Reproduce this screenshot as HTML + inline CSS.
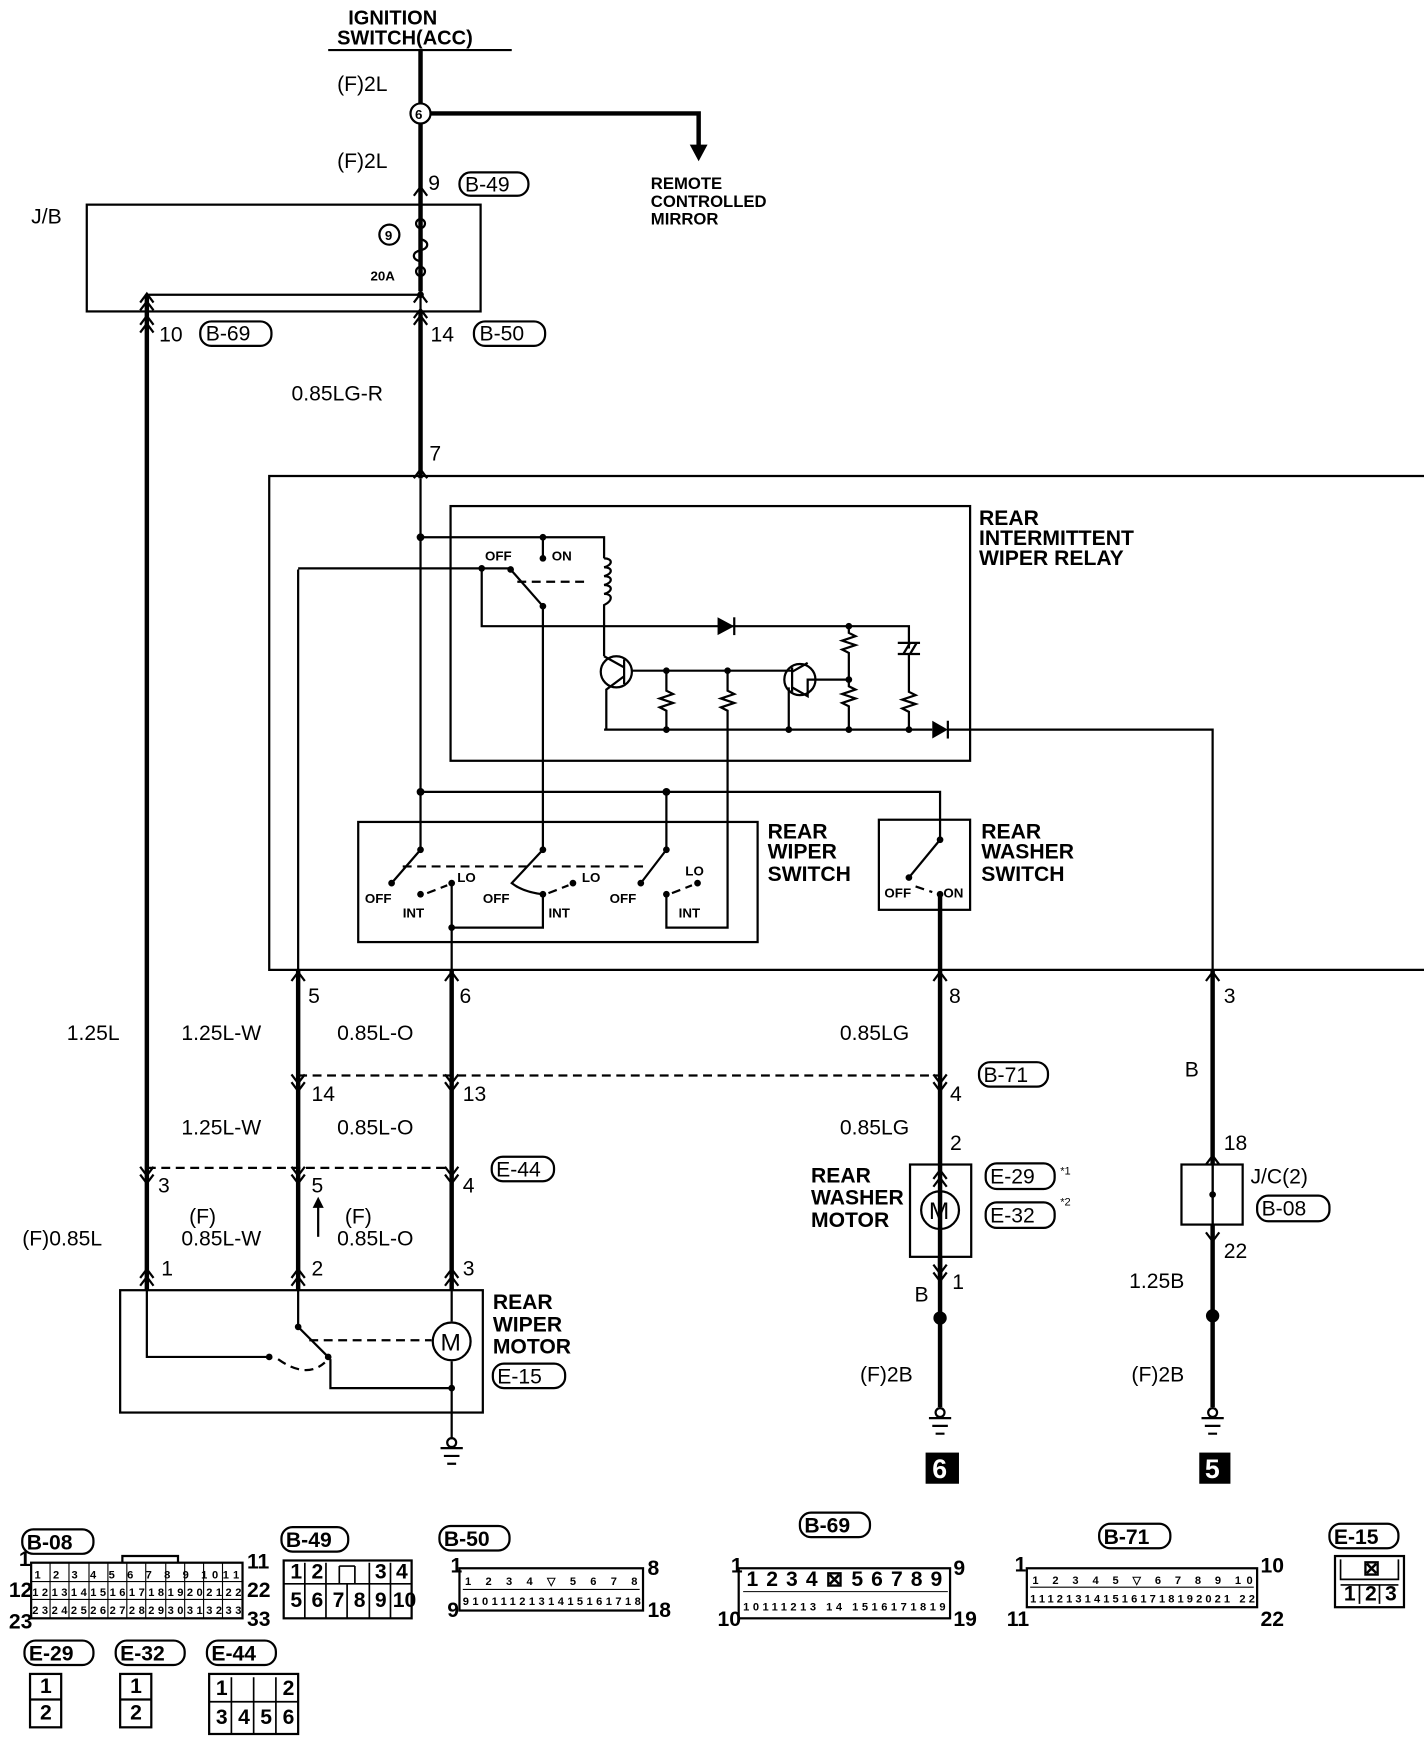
<!DOCTYPE html>
<html><head><meta charset="utf-8"><style>
html,body{margin:0;padding:0;background:#fff}
svg{display:block}
text{font-family:"Liberation Sans",sans-serif;font-size:19px;fill:#000}
.b{font-weight:bold}
.s{font-size:12px;font-weight:bold}
.n{font-size:10px}
.w{stroke:#000;fill:none;stroke-width:2}
.t{stroke:#000;fill:none;stroke-width:4}
.d{stroke:#000;fill:none;stroke-width:2;stroke-dasharray:8 5}
</style></head><body>
<svg width="1424" height="1744" viewBox="0 0 1280 1568" preserveAspectRatio="none" xmlns="http://www.w3.org/2000/svg">
<!-- top -->
<text x="313" y="22" class="b" style="font-size:18px">IGNITION</text>
<text x="303" y="40" class="b" style="font-size:18px">SWITCH(ACC)</text>
<line x1="295" y1="45" x2="460" y2="45" class="w"/>
<line x1="378" y1="45" x2="378" y2="262" class="t"/>
<circle cx="378" cy="102" r="9" fill="#fff" stroke="#000" stroke-width="2"/>
<text x="373" y="107" class="s">6</text>
<path d="M387 102H628V132" class="t"/><path d="M620 130L628 145L636 130Z"/>
<text x="585" y="170" class="b" style="font-size:15px">REMOTE</text>
<text x="585" y="186" class="b" style="font-size:15px">CONTROLLED</text>
<text x="585" y="202" class="b" style="font-size:15px">MIRROR</text>
<text x="303" y="82">(F)2L</text><text x="303" y="151">(F)2L</text>
<text x="385" y="171">9</text>
<rect x="413" y="155" width="62" height="21" rx="10" class="w"/><text x="418" y="172">B-49</text>
<path d="M372 176L378 168L384 176" class="w"/>
<!-- J/B -->
<rect x="78" y="184" width="354" height="96" class="w"/>
<text x="28" y="201">J/B</text>
<circle cx="350" cy="211" r="9" class="w"/><text x="346" y="216" class="s">9</text>
<circle cx="378" cy="201" r="4" class="w"/><circle cx="378" cy="244" r="4" class="w"/>
<path d="M378 205v10c8 2 8 8 0 10c-8 2 -8 8 0 10v5" class="w"/>
<text x="333" y="252" class="s">20A</text>
<path d="M378 248V280M132 265H378" class="w"/>
<circle cx="378" cy="265" r="3"/>
<path d="M126 272L132 264L138 272M126 279L132 271L138 279M372 272L378 264L384 272M372 286L378 278L384 286" class="w"/>
<line x1="132" y1="265" x2="132" y2="1160" class="t"/>
<line x1="378" y1="280" x2="378" y2="430" class="t"/>
<path d="M126 292L132 284L138 292M126 299L132 291L138 299M372 292L378 284L384 292" class="w"/>
<text x="143" y="307">10</text><rect x="180" y="289" width="64" height="22" rx="10" class="w"/><text x="185" y="306">B-69</text>
<text x="387" y="307">14</text><rect x="426" y="289" width="64" height="22" rx="10" class="w"/><text x="431" y="306">B-50</text>
<text x="262" y="360">0.85LG-R</text>
<text x="386" y="414">7</text>
<path d="M372 430L378 422L384 430" class="w"/>
<!-- outer frame -->
<path d="M1280 428H242V872H1280" class="w"/>
<!-- relay -->
<rect x="405" y="455" width="467" height="229" class="w"/>
<text x="880" y="472" class="b">REAR</text>
<text x="880" y="490" class="b">INTERMITTENT</text>
<text x="880" y="508" class="b">WIPER RELAY</text>
<line x1="378" y1="430" x2="378" y2="764" class="w"/>
<path d="M378 483H543V502M488 483V502" class="w"/>
<circle cx="378" cy="483" r="3.5"/><circle cx="488" cy="483" r="3"/><circle cx="488" cy="502" r="3"/>
<text x="436" y="504" class="s">OFF</text><text x="496" y="504" class="s">ON</text>
<path d="M543 502c8 0 8 6 0 8c8 0 8 6 0 8c8 0 8 6 0 8c8 0 8 6 0 8c8 0 8 6 0 10V590" class="w"/>
<path d="M268 512V1160M268 511H459" class="w"/>
<circle cx="433" cy="511" r="3"/><circle cx="459" cy="512" r="3"/>
<path d="M459 512L488 545" class="w"/><circle cx="488" cy="545" r="3"/>
<path d="M465 523H530" class="d"/>
<path d="M433 511V563H817V583" class="w"/>
<path d="M645 555L660 563L645 571Z"/><line x1="660" y1="555" x2="660" y2="571" class="w"/>
<circle cx="763" cy="563" r="3"/>
<path d="M763 563v6l6 3l-12 4l12 4l-12 4l6 3V611v6l6 3l-12 4l12 4l-12 4l6 3V656" class="w"/>
<circle cx="763" cy="611" r="3"/>
<path d="M807 578H827M807 588H827M812 588L818 578M818 588L824 578" class="w"/>
<path d="M817 588v34l6 3l-12 4l12 4l-12 4l6 3V656" class="w"/>
<line x1="488" y1="545" x2="488" y2="764" class="w"/>
<circle cx="554" cy="604" r="14" class="w"/><circle cx="719" cy="611" r="14" class="w"/>
<path d="M561 593V615M543 590L561 600M561 608L545 620V656M568 603H712" class="w"/>
<path d="M712 600V622M712 604L726 596M712 618L726 626V611H763M709 618V656" class="w"/>
<circle cx="599" cy="603" r="3"/><circle cx="654" cy="603" r="3"/>
<path d="M599 603v18l6 3l-12 4l12 4l-12 4l6 3V656" class="w"/>
<path d="M654 603v18l6 3l-12 4l12 4l-12 4l6 3V834H599V804" class="w"/>
<path d="M543 656H838" class="w"/>
<circle cx="599" cy="656" r="3"/><circle cx="709" cy="656" r="3"/><circle cx="763" cy="656" r="3"/><circle cx="817" cy="656" r="3"/>
<path d="M838 648L852 656L838 664Z"/><line x1="852" y1="648" x2="852" y2="664" class="w"/>
<path d="M852 656H1090V1160" class="w"/>
<!-- switch supply -->
<path d="M378 712H845V755" class="w"/>
<circle cx="378" cy="712" r="3.5"/><circle cx="599" cy="712" r="3.5"/>
<line x1="599" y1="712" x2="599" y2="764" class="w"/>
<!-- wiper switch -->
<rect x="322" y="739" width="359" height="108" class="w"/>
<text x="690" y="754" class="b">REAR</text><text x="690" y="772" class="b">WIPER</text><text x="690" y="792" class="b">SWITCH</text>
<path d="M378 764L352 794M488 764L460 794Q470 802 488 804V834H406M599 764L576 794" class="w"/>
<circle cx="378" cy="764" r="3"/><circle cx="488" cy="764" r="3"/><circle cx="599" cy="764" r="3"/>
<circle cx="352" cy="794" r="3"/><circle cx="378" cy="804" r="3"/><circle cx="406" cy="794" r="3"/>
<circle cx="488" cy="804" r="3"/><circle cx="515" cy="794" r="3"/><circle cx="576" cy="794" r="3"/><circle cx="599" cy="804" r="3"/><circle cx="627" cy="794" r="3"/>
<circle cx="406" cy="834" r="3"/>
<path d="M362 779H583" class="d"/>
<path d="M384 803L402 796M493 803L511 796M604 803L622 796" class="d"/>
<path d="M406 794V1160" class="w"/>
<text x="328" y="812" class="s">OFF</text><text x="362" y="825" class="s">INT</text><text x="411" y="793" class="s">LO</text>
<text x="434" y="812" class="s">OFF</text><text x="493" y="825" class="s">INT</text><text x="523" y="793" class="s">LO</text>
<text x="548" y="812" class="s">OFF</text><text x="610" y="825" class="s">INT</text><text x="616" y="787" class="s">LO</text>
<!-- washer switch -->
<rect x="790" y="737" width="82" height="81" class="w"/>
<text x="882" y="754" class="b">REAR</text><text x="882" y="772" class="b">WASHER</text><text x="882" y="792" class="b">SWITCH</text>
<path d="M845 755L817 789" class="w"/><circle cx="845" cy="755" r="3"/><circle cx="817" cy="789" r="3"/><circle cx="845" cy="804" r="3"/>
<path d="M823 797L838 802" class="d"/>
<text x="795" y="807" class="s">OFF</text><text x="848" y="807" class="s">ON</text>
<line x1="845" y1="804" x2="845" y2="1150" class="t"/>
<!-- lower wires -->
<line x1="268" y1="872" x2="268" y2="1160" class="t"/>
<line x1="406" y1="872" x2="406" y2="1160" class="t"/>
<line x1="1090" y1="872" x2="1090" y2="1047" class="t"/>
<path d="M262 882L268 874L274 882M400 882L406 874L412 882M839 882L845 874L851 882M1084 882L1090 874L1096 882" class="w"/>
<text x="277" y="902">5</text><text x="413" y="902">6</text><text x="853" y="902">8</text><text x="1100" y="902">3</text>
<text x="60" y="935">1.25L</text><text x="163" y="935">1.25L-W</text><text x="303" y="935">0.85L-O</text><text x="755" y="935">0.85LG</text>
<text x="1065" y="968">B</text>
<path d="M268 967H845" class="d"/>
<path d="M262 966L268 974L274 966M262 973L268 981L274 973M400 966L406 974L412 966M400 973L406 981L412 973M839 966L845 974L851 966M839 973L845 981L851 973" class="w"/>
<text x="280" y="990">14</text><text x="416" y="990">13</text><text x="854" y="990">4</text>
<rect x="880" y="955" width="62" height="22" rx="10" class="w"/><text x="884" y="973">B-71</text>
<text x="163" y="1020">1.25L-W</text><text x="303" y="1020">0.85L-O</text><text x="755" y="1020">0.85LG</text>
<text x="854" y="1034">2</text><text x="1100" y="1034">18</text>
<path d="M132 1050H406" class="d"/>
<path d="M126 1049L132 1057L138 1049M126 1056L132 1064L138 1056M262 1049L268 1057L274 1049M262 1056L268 1064L274 1056M400 1049L406 1057L412 1049M400 1056L406 1064L412 1056" class="w"/>
<text x="142" y="1072">3</text><text x="280" y="1072">5</text><text x="416" y="1072">4</text>
<rect x="442" y="1040" width="56" height="22" rx="10" class="w"/><text x="446" y="1058">E-44</text>
<text x="170" y="1100">(F)</text><text x="310" y="1100">(F)</text>
<text x="20" y="1120">(F)0.85L</text><text x="163" y="1120">0.85L-W</text><text x="303" y="1120">0.85L-O</text>
<path d="M286 1112V1080" class="w"/><path d="M281 1086L286 1076L291 1086Z"/>
<text x="145" y="1147">1</text><text x="280" y="1147">2</text><text x="416" y="1147">3</text>
<path d="M126 1149L132 1141L138 1149M126 1156L132 1148L138 1156M262 1149L268 1141L274 1149M262 1156L268 1148L274 1156M400 1149L406 1141L412 1149M400 1156L406 1148L412 1156" class="w"/>
<!-- wiper motor -->
<rect x="108" y="1160" width="326" height="110" class="w"/>
<text x="443" y="1177" class="b">REAR</text><text x="443" y="1197" class="b">WIPER</text><text x="443" y="1217" class="b">MOTOR</text>
<rect x="443" y="1226" width="65" height="22" rx="10" class="w"/><text x="447" y="1244">E-15</text>
<path d="M132 1160V1220H242M268 1160V1193L295 1220M297 1222V1248H406V1224M406 1160V1188" class="w"/>
<circle cx="242" cy="1220" r="3"/><circle cx="268" cy="1193" r="3"/><circle cx="295" cy="1220" r="3"/>
<path d="M250 1222Q275 1240 292 1225M278 1205H388" class="d"/>
<circle cx="406" cy="1206" r="17" class="w"/><text x="396" y="1214" style="font-size:22px">M</text>
<path d="M406 1248V1294" class="w"/><circle cx="406" cy="1248" r="3"/>
<circle cx="406" cy="1297" r="4" class="w"/><path d="M396 1302H416M399 1309H413M402 1316H410" class="w"/>
<!-- washer motor -->
<text x="729" y="1063" class="b">REAR</text><text x="729" y="1083" class="b">WASHER</text><text x="729" y="1103" class="b">MOTOR</text>
<rect x="818" y="1047" width="55" height="83" class="w"/>
<circle cx="845" cy="1088" r="17" class="w"/><text x="835" y="1096" style="font-size:22px">M</text>
<path d="M839 1060L845 1052L851 1060M839 1067L845 1059L851 1067" class="w"/>
<rect x="886" y="1046" width="62" height="23" rx="10" class="w"/><text x="890" y="1064">E-29</text><text x="953" y="1056" class="n">*1</text>
<rect x="886" y="1081" width="62" height="23" rx="10" class="w"/><text x="890" y="1099">E-32</text><text x="953" y="1084" class="n">*2</text>
<line x1="845" y1="1130" x2="845" y2="1265" class="t"/>
<path d="M839 1137L845 1145L851 1137M839 1144L845 1152L851 1144" class="w"/>
<text x="856" y="1159">1</text><text x="822" y="1170">B</text>
<circle cx="845" cy="1185" r="6"/>
<text x="773" y="1242">(F)2B</text>
<circle cx="845" cy="1270" r="4" class="w"/><path d="M835 1275H855M838 1282H852M841 1289H849" class="w"/>
<rect x="832" y="1306" width="30" height="28" fill="#000"/><text x="838" y="1329" style="font-size:24px;fill:#fff" class="b">6</text>
<!-- J/C -->
<rect x="1062" y="1047" width="55" height="54" class="w"/>
<path d="M1090 1047V1101" class="w"/><circle cx="1090" cy="1074" r="3"/>
<path d="M1084 1047L1090 1039L1096 1047" class="w"/>
<text x="1124" y="1064">J/C(2)</text>
<rect x="1130" y="1075" width="65" height="23" rx="10" class="w"/><text x="1134" y="1093">B-08</text>
<line x1="1090" y1="1101" x2="1090" y2="1265" class="t"/>
<path d="M1084 1108L1090 1116L1096 1108" class="w"/>
<text x="1100" y="1131">22</text><text x="1015" y="1158">1.25B</text>
<circle cx="1090" cy="1183" r="6"/>
<text x="1017" y="1242">(F)2B</text>
<circle cx="1090" cy="1270" r="4" class="w"/><path d="M1080 1275H1100M1083 1282H1097M1086 1289H1094" class="w"/>
<rect x="1078" y="1306" width="28" height="28" fill="#000"/><text x="1083" y="1329" style="font-size:24px;fill:#fff" class="b">5</text>
<!-- connectors -->
<g class="s">
<rect x="20" y="1375" width="64" height="22" rx="10" class="w"/><text x="24" y="1393" style="font-size:19px">B-08</text>
<rect x="28" y="1405" width="190" height="50" class="w"/>
<path d="M28 1422H218M28 1438H218M45 1405V1455M62 1405V1455M80 1405V1455M97 1405V1455M114 1405V1455M131 1405V1455M149 1405V1455M166 1405V1455M183 1405V1455M200 1405V1455" stroke="#000" stroke-width="1" fill="none"/>
<path d="M110 1405V1399H160V1405" class="w"/>
<text x="31" y="1419" textLength="184" class="n">1 2 3 4 5 6 7 8 9 1011</text>
<text x="29" y="1435" textLength="188" class="n">1213141516171819202122</text>
<text x="29" y="1451" textLength="188" class="n">2324252627282930313233</text>
<text x="17" y="1408">1</text><text x="222" y="1410">11</text><text x="8" y="1436">12</text><text x="222" y="1436">22</text><text x="8" y="1464">23</text><text x="222" y="1462">33</text>
<rect x="253" y="1373" width="60" height="22" rx="10" class="w"/><text x="257" y="1391" style="font-size:19px">B-49</text>
<rect x="255" y="1403" width="115" height="52" class="w"/>
<path d="M255 1424H370M274 1405V1455M293 1405V1455M312 1424V1455M332 1405V1455M351 1405V1455M305 1408V1424M319 1408V1424M305 1408H319" stroke="#000" stroke-width="1.5" fill="none"/>
<text x="261" y="1419">1</text><text x="280" y="1419">2</text><text x="337" y="1419">3</text><text x="356" y="1419">4</text>
<text x="261" y="1445">5</text><text x="280" y="1445">6</text><text x="299" y="1445">7</text><text x="318" y="1445">8</text><text x="337" y="1445">9</text><text x="353" y="1445">10</text>
<rect x="395" y="1372" width="63" height="22" rx="10" class="w"/><text x="399" y="1390" style="font-size:19px">B-50</text>
<rect x="413" y="1410" width="165" height="38" class="w"/>
<path d="M416 1429H575" stroke="#000" stroke-width="1"/>
<text x="418" y="1425" textLength="155" class="n">1 2 3 4 ▽ 5 6 7 8</text>
<text x="416" y="1443" textLength="160" class="n">9101112131415161718</text>
<text x="405" y="1414">1</text><text x="582" y="1416">8</text><text x="402" y="1454">9</text><text x="582" y="1454">18</text>
<rect x="719" y="1360" width="63" height="22" rx="10" class="w"/><text x="723" y="1378" style="font-size:19px">B-69</text>
<rect x="664" y="1410" width="190" height="45" class="w"/>
<path d="M668 1431H852" stroke="#000" stroke-width="1"/>
<text x="671" y="1426" textLength="176">1 2 3 4 ⊠ 5 6 7 8 9</text>
<text x="668" y="1448" textLength="182" class="n">10111213 14 1516171819</text>
<text x="657" y="1414">1</text><text x="857" y="1416">9</text><text x="645" y="1462">10</text><text x="857" y="1462">19</text>
<rect x="988" y="1370" width="64" height="22" rx="10" class="w"/><text x="992" y="1388" style="font-size:19px">B-71</text>
<rect x="923" y="1410" width="207" height="35" class="w"/>
<path d="M926 1427H1127" stroke="#000" stroke-width="1"/>
<text x="928" y="1424" textLength="198" class="n">1 2 3 4 5 ▽ 6 7 8 9 10</text>
<text x="926" y="1441" textLength="202" class="n">1112131415161718192021 22</text>
<text x="912" y="1413">1</text><text x="1133" y="1414">10</text><text x="905" y="1462">11</text><text x="1133" y="1462">22</text>
<rect x="1195" y="1370" width="62" height="22" rx="10" class="w"/><text x="1199" y="1388" style="font-size:19px">E-15</text>
<rect x="1200" y="1399" width="62" height="46" class="w"/>
<path d="M1205 1402V1420H1257V1402M1205 1425H1257M1222 1425V1442M1240 1425V1442" stroke="#000" stroke-width="1.5" fill="none"/>
<text x="1225" y="1416">⊠</text><text x="1208" y="1439">1</text><text x="1227" y="1439">2</text><text x="1245" y="1439">3</text>
<rect x="22" y="1475" width="62" height="22" rx="10" class="w"/><text x="26" y="1493" style="font-size:19px">E-29</text>
<rect x="27" y="1505" width="28" height="48" class="w"/><path d="M27 1528H55" class="w"/><text x="36" y="1522">1</text><text x="36" y="1546">2</text>
<rect x="104" y="1475" width="62" height="22" rx="10" class="w"/><text x="108" y="1493" style="font-size:19px">E-32</text>
<rect x="108" y="1505" width="28" height="48" class="w"/><path d="M108 1528H136" class="w"/><text x="117" y="1522">1</text><text x="117" y="1546">2</text>
<rect x="186" y="1475" width="62" height="22" rx="10" class="w"/><text x="190" y="1493" style="font-size:19px">E-44</text>
<rect x="188" y="1505" width="80" height="54" class="w"/>
<path d="M188 1530H268M208 1530V1559M228 1508V1559M248 1508V1559M208 1508V1530" stroke="#000" stroke-width="1.5" fill="none"/>
<text x="194" y="1524">1</text><text x="254" y="1524">2</text><text x="194" y="1550">3</text><text x="214" y="1550">4</text><text x="234" y="1550">5</text><text x="254" y="1550">6</text>
</g>
</svg>
</body></html>
